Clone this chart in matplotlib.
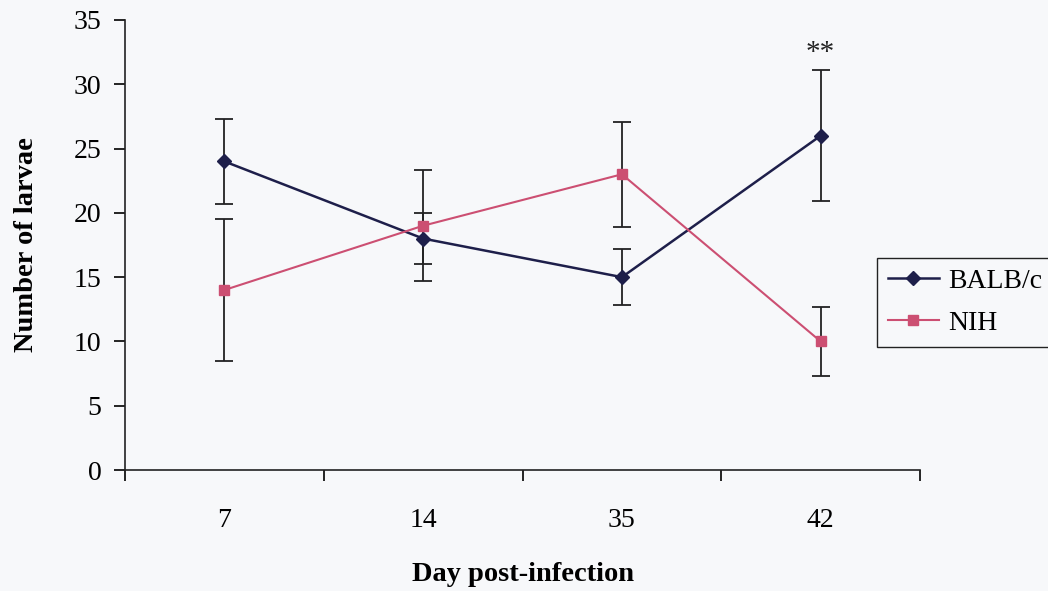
import numpy as np
import matplotlib.pyplot as plt

# larvae counts per mouse strain, mean and error
days = ["7", "14", "35", "42"]
balb_mean = [24.0, 18.0, 15.0, 26.0]
balb_err = [3.3, 2.0, 2.2, 5.1]
nih_mean = [14.0, 19.0, 23.0, 10.0]
nih_err = [5.5, 4.3, 4.1, 2.7]

plt.rcParams['font.family'] = ['Liberation Serif', 'DejaVu Serif']

bg = '#f7f8fa'
fig = plt.figure(figsize=(10.48, 5.91), dpi=100, facecolor=bg)
ax = fig.add_axes([0.1193, 0.2047, 0.8779 - 0.1193, 0.9662 - 0.2047])
ax.set_facecolor(bg)

x = np.arange(len(days))
balb = ax.errorbar(x, balb_mean, yerr=balb_err, color='#1e1f4a', ecolor='#222222',
                   elinewidth=1.3, capsize=6.5, capthick=1.3, lw=1.8,
                   marker='D', markersize=7, zorder=3)
nih = ax.errorbar(x, nih_mean, yerr=nih_err, color='#cc4f72', ecolor='#222222',
                  elinewidth=1.3, capsize=6.5, capthick=1.3, lw=1.5,
                  marker='s', markersize=7.5, zorder=3)

# significance mark above day 42
ax.text(x[3], balb_mean[3] + balb_err[3] + 1.3, '**', ha='center', va='center',
        fontsize=21, color='#222222')

ax.set_xlim(-0.5, 3.5)
ax.set_ylim(0, 35)
ax.set_yticks(np.arange(0, 36, 5))
ax.set_xticks(np.arange(-0.5, 3.6, 1.0))
ax.set_xticklabels([])
ax.set_xticks(x, minor=True)
ax.set_xticklabels(days, minor=True)
ax.tick_params(axis='x', which='major', direction='out', length=8, width=1.2)
ax.tick_params(axis='x', which='minor', length=0, pad=27, labelsize=20)
ax.tick_params(axis='y', direction='out', length=8, width=1.2, pad=9, labelsize=20)

for side in ['top', 'right']:
    ax.spines[side].set_visible(False)
for side in ['left', 'bottom']:
    ax.spines[side].set_linewidth(1.2)
    ax.spines[side].set_color('#222222')

ax.set_xlabel('Day post-infection', fontsize=20.5, fontweight='bold', labelpad=21)
ax.set_ylabel('Number of larvae', fontsize=20.5, fontweight='bold', labelpad=25)

leg = ax.legend([balb[0], nih[0]], ['BALB/c', 'NIH'], loc='upper left',
                bbox_to_anchor=(877 / 1048, 1 - 258 / 591),
                bbox_transform=fig.transFigure, borderaxespad=0, fontsize=20,
                fancybox=False, framealpha=1, handlelength=1.85, handletextpad=0.32,
                borderpad=0.38, labelspacing=0.6, facecolor=bg)
leg.get_frame().set_edgecolor('#222222')
leg.get_frame().set_linewidth(1.0)

fig.savefig('out.png', dpi=100, facecolor=bg)
